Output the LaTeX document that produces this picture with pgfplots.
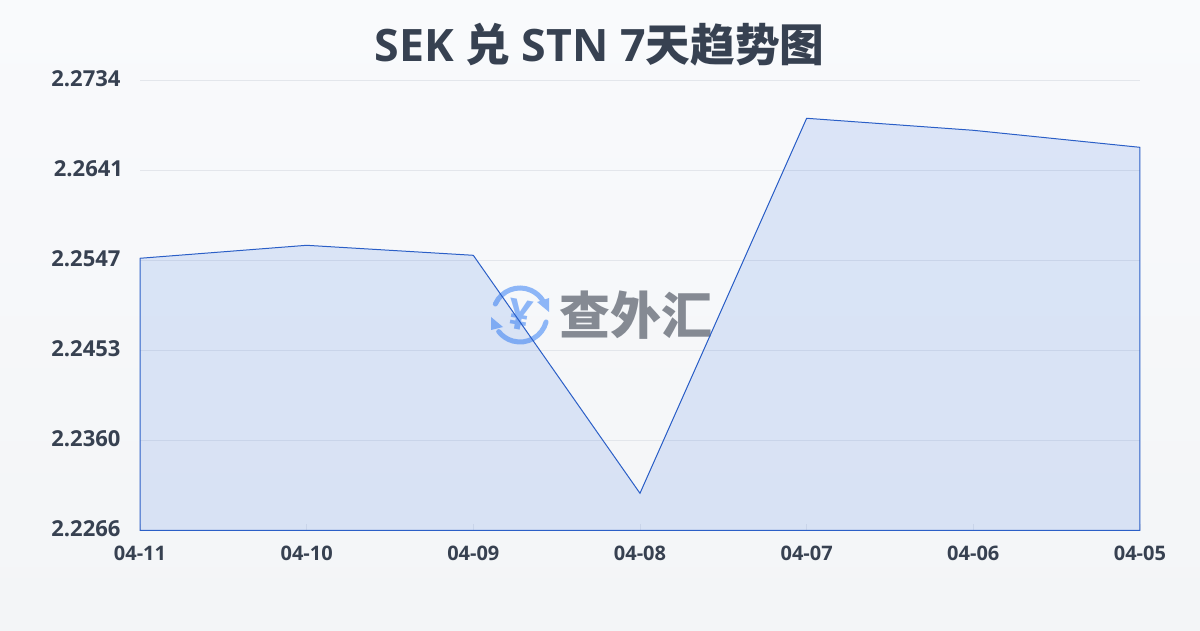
\documentclass[border=0pt]{standalone}
\usepackage{fontspec}
\usepackage{pgfplots}
\pgfplotsset{compat=1.18}
\setmainfont{Open Sans}
\newfontfamily\cjk{Noto Sans CJK SC}
\definecolor{txt}{HTML}{374151}
\definecolor{ln}{HTML}{2B5FC7}
\definecolor{ar}{HTML}{2F6BE0}
\definecolor{gr}{HTML}{E3E6EB}
\definecolor{logo}{HTML}{8DB6F7}
\definecolor{wm}{HTML}{858A93}
\pgfplotstableread{
x y
0 2.25489
1 2.25624
2 2.25520
3 2.23045
4 2.26945
5 2.26820
6 2.26643
}\rates
\begin{document}
\begin{tikzpicture}[x=1pt,y=1pt]
\shade[top color={rgb,255:red,249;green,250;blue,252},bottom color={rgb,255:red,243;green,245;blue,247}] (0,0) rectangle (1200,630);
\node[anchor=center,font=\fontsize{44.7}{50}\selectfont\bfseries,text=txt,inner sep=0pt] at (599.5,585.7) {SEK {\cjk 兑} STN 7{\cjk 天趋势图}};
% watermark
\begin{scope}[shift={(520,315)}]
\draw[logo,line width=5pt,line cap=round] (156:27) arc (156:30:27);
\draw[logo,line width=5pt,line cap=round] (-15:27) arc (-15:-142:27);
\fill[logo] (17,13) -- (29,17) -- (29,3) -- cycle;
\fill[logo] (-29,-2) -- (-29,-15) -- (-17,-12) -- cycle;
\node[text=logo,font=\fontsize{42}{42}\selectfont\bfseries,inner sep=0pt,rotate=-10] at (0,0) {¥};
\end{scope}
\node[anchor=west,text=wm,font=\cjk\fontsize{51}{51}\selectfont\bfseries,inner sep=0pt] at (559,315) {查外汇};
\begin{axis}[
  at={(140pt,99.7pt)},anchor=origin,
  scale only axis,width=1000pt,height=450pt,
  xmin=0,xmax=6,ymin=2.2266,ymax=2.2734,
  axis line style={draw=none},
  clip=false,
  xtick={0,...,6},
  xtick pos=bottom,
  xticklabels={04-11,04-10,04-09,04-08,04-07,04-06,04-05},
  ytick={2.2266,2.23596,2.24532,2.25468,2.26404,2.2734},
  yticklabels={2.2266,2.2360,2.2453,2.2547,2.2641\kern-2.5pt,2.2734},
  ymajorgrids,
  grid style={gr,line width=0.8pt},
  tick style={gr,line width=0.8pt},
  major tick length=6pt,
  ytick style={draw=none},
  xticklabel style={font=\fontsize{20}{24}\selectfont\bfseries,text=txt,yshift=-12pt},
  yticklabel style={font=\fontsize{22}{26}\selectfont\bfseries,text=txt,xshift=-16pt,yshift=2pt},
  /pgf/number format/assume math mode=true,
]
\addplot[draw=ln,line width=1pt,fill=ar,fill opacity=0.14,draw opacity=1] table[x=x,y=y]{\rates} \closedcycle;
\end{axis}
\end{tikzpicture}
\end{document}
